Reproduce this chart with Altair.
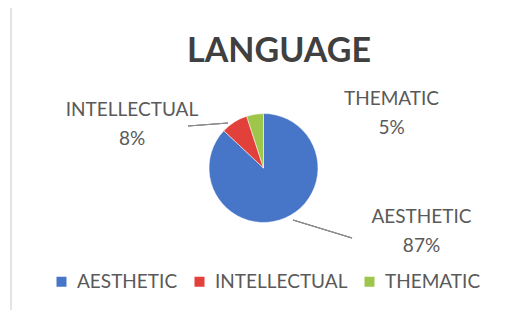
import altair as alt
import pandas as pd

# ---- data ----
categories = ["AESTHETIC", "INTELLECTUAL", "THEMATIC"]
values = [87, 8, 5]
colors = ["#4775C7", "#E2413B", "#9DC64A"]
title_text = "LANGUAGE"

df = pd.DataFrame({
    "category": categories,
    "value": values,
    "order": list(range(len(categories))),
})
df["label"] = [f"{c}\n{v}%" for c, v in zip(categories, values)]

base = alt.Chart(df)

CX, CY, R = 255.5, 160, 54.5
FONT = "Lato"
GREY = "#595959"

pie = base.mark_arc(outerRadius=R, stroke="white", strokeWidth=0.5).encode(
    theta=alt.Theta("value:Q", stack=True),
    order=alt.Order("order:Q"),
    color=alt.Color(
        "category:N",
        scale=alt.Scale(domain=categories, range=colors),
        sort=categories,
        legend=alt.Legend(
            title=None, orient="none", legendX=44, legendY=264,
            direction="horizontal", symbolType="square", symbolSize=100,
            symbolStrokeWidth=0, labelFont=FONT, labelFontSize=19,
            labelColor=GREY, columnPadding=12, labelOffset=6,
        ),
    ),
    x=alt.value(CX),
    y=alt.value(CY),
)

title = alt.Chart(pd.DataFrame({"t": [title_text]})).mark_text(
    font=FONT, fontSize=34, fontWeight="bold", color="#404040",
    align="center", baseline="middle",
).encode(text="t:N", x=alt.value(271), y=alt.value(44))

label_pos = {
    "AESTHETIC": (413.5, 209),
    "INTELLECTUAL": (124, 102),
    "THEMATIC": (383.5, 91),
}
labels = []
for c in categories:
    lx, ly = label_pos[c]
    labels.append(
        base.transform_filter(alt.datum.category == c).mark_text(
            font=FONT, fontSize=19, color=GREY, align="center",
            baseline="middle", lineBreak="\n", lineHeight=29,
        ).encode(text="label:N", x=alt.value(lx), y=alt.value(ly))
    )

lead1 = base.mark_rule(color="#8c8c8c", strokeWidth=1.2).encode(
    x=alt.value(180), y=alt.value(118), x2=alt.value(220), y2=alt.value(115)
)
lead2 = base.mark_rule(color="#8c8c8c", strokeWidth=1.2).encode(
    x=alt.value(285), y=alt.value(212), x2=alt.value(344), y2=alt.value(230)
)
frame = base.mark_rule(color="#e4e4e4", strokeWidth=2).encode(
    x=alt.value(3), y=alt.value(0), x2=alt.value(3), y2=alt.value(302)
)

chart = alt.layer(frame, lead1, lead2, pie, title, *labels).properties(
    width=495, height=302, autosize="none", padding=0, background="white"
).configure_view(stroke=None)

chart.save("out.html", embed_options={"renderer": "svg", "actions": False})
